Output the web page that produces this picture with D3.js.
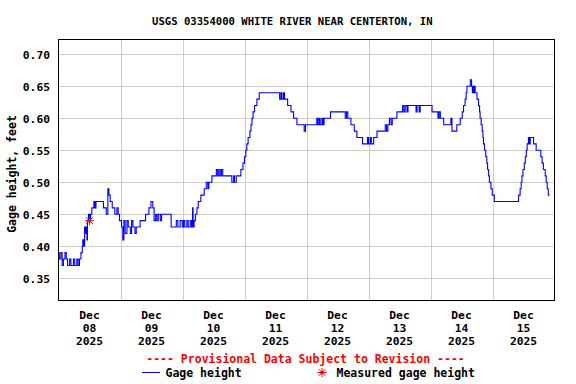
<!DOCTYPE html>
<html>
<head>
<meta charset="utf-8">
<script src="https://cdn.jsdelivr.net/npm/d3@7"></script>
<style>
  html, body { margin: 0; padding: 0; background: #fff; }
  svg text { font-family: "DejaVu Sans Mono", "Liberation Mono", monospace; font-weight: bold; }
</style>
</head>
<body>
<div id="chart"></div>
<script>
// USGS gage height, hours since Dec 08 2025 00:00
const titleText = "USGS 03354000 WHITE RIVER NEAR CENTERTON, IN";
const obsHours = [
  0.0, 0.3, 0.9, 1.4, 1.9, 2.5, 3.0, 3.5, 4.3, 4.8, 5.8, 6.3, 7.1, 7.6, 8.1, 8.7, 9.2, 9.4, 9.7,
  10.1, 10.5, 10.7, 11.0, 11.2, 11.6, 12.0, 12.4, 12.9, 13.7, 14.1, 14.5, 17.4, 18.5, 19.1, 19.5,
  20.0, 20.8, 21.8, 22.6, 23.1, 23.6, 24.4, 24.9, 25.3, 25.8, 26.5, 27.0, 27.8, 28.3, 28.8, 29.6,
  30.1, 31.6, 33.7, 35.0, 35.8, 36.5, 37.0, 37.6, 38.1, 38.6, 39.4, 39.9, 43.6, 45.6, 46.2, 47.1,
  47.9, 48.4, 48.9, 49.7, 50.2, 51.0, 51.5, 51.9, 52.1, 52.5, 53.0, 53.6, 54.1, 55.1, 56.4, 57.2,
  57.8, 58.2, 59.4, 61.1, 61.6, 62.1, 62.6, 63.1, 63.6, 67.1, 67.8, 68.1, 68.8, 70.6, 71.4, 72.0,
  72.5, 72.9, 73.4, 74.1, 74.5, 74.9, 75.3, 75.9, 76.8, 77.7, 85.6, 86.1, 86.5, 87.1, 87.5, 88.7,
  90.0, 91.0, 92.3, 95.1, 95.6, 100.0, 100.4, 100.9, 101.3, 102.0, 102.4, 102.8, 105.3, 111.0,
  111.5, 112.0, 113.2, 114.5, 115.5, 117.7, 119.6, 120.0, 120.7, 121.1, 122.0, 123.3, 126.5, 127.0,
  127.5, 128.1, 128.7, 129.2, 131.0, 133.2, 133.7, 134.2, 134.9, 135.3, 138.4, 138.8, 139.6, 140.0,
  144.6, 146.9, 147.3, 147.8, 149.1, 151.9, 152.3, 154.2, 155.5, 156.3, 156.8, 157.4, 157.8, 158.1,
  159.4, 159.9, 160.2, 160.5, 160.8, 161.0, 161.3, 162.0, 162.6, 163.0, 163.2, 163.6, 164.0, 164.3,
  164.5, 164.9, 165.4, 165.8, 166.1, 166.5, 166.8, 167.4, 167.9, 168.7, 178.1, 178.7, 179.1, 179.4,
  179.8, 180.3, 180.7, 181.1, 181.4, 181.9, 182.3, 182.6, 183.9, 184.9, 186.7, 187.2, 187.7, 188.4,
  188.8, 189.2, 189.6, 190.1
];
const gageHeight = [
  0.39, 0.38, 0.39, 0.37, 0.38, 0.39, 0.38, 0.37, 0.38, 0.37, 0.38, 0.37, 0.38, 0.37, 0.38, 0.39, 0.40, 0.41, 0.40,
  0.43, 0.42, 0.43, 0.41, 0.44, 0.45, 0.44, 0.45, 0.46, 0.47, 0.46, 0.47, 0.46, 0.45, 0.49, 0.48,
  0.47, 0.46, 0.45, 0.46, 0.45, 0.44, 0.43, 0.41, 0.44, 0.42, 0.44, 0.43, 0.42, 0.44, 0.43, 0.42,
  0.43, 0.44, 0.45, 0.46, 0.47, 0.46, 0.44, 0.45, 0.44, 0.45, 0.44, 0.45, 0.43, 0.44, 0.43, 0.44,
  0.43, 0.44, 0.43, 0.44, 0.43, 0.44, 0.43, 0.46, 0.43, 0.44, 0.45, 0.46, 0.47, 0.48, 0.49, 0.50,
  0.49, 0.50, 0.51, 0.52, 0.51, 0.52, 0.51, 0.52, 0.51, 0.50, 0.51, 0.50, 0.51, 0.52, 0.53, 0.54,
  0.55, 0.56, 0.57, 0.58, 0.59, 0.60, 0.61, 0.62, 0.63, 0.64, 0.63, 0.64, 0.63, 0.64, 0.63, 0.62,
  0.61, 0.60, 0.59, 0.58, 0.59, 0.60, 0.59, 0.60, 0.59, 0.60, 0.59, 0.60, 0.61, 0.60,
  0.61, 0.60, 0.59, 0.58, 0.57, 0.56, 0.57, 0.56, 0.57, 0.56, 0.57, 0.58, 0.59, 0.58,
  0.59, 0.60, 0.59, 0.60, 0.61, 0.62, 0.61, 0.62, 0.61, 0.62, 0.61, 0.62, 0.61, 0.62,
  0.61, 0.60, 0.61, 0.60, 0.59, 0.60, 0.58, 0.59, 0.60, 0.61, 0.62, 0.63, 0.64, 0.65,
  0.66, 0.65, 0.64, 0.65, 0.64, 0.65, 0.64, 0.63, 0.62, 0.61, 0.60, 0.59, 0.58, 0.57,
  0.56, 0.55, 0.54, 0.53, 0.52, 0.51, 0.50, 0.49, 0.48, 0.47, 0.48, 0.49, 0.50, 0.51,
  0.52, 0.53, 0.54, 0.55, 0.56, 0.57, 0.56, 0.57, 0.56, 0.55, 0.54, 0.53, 0.52, 0.51,
  0.50, 0.49, 0.48, 0.48
];
const measuredHours = [12.0];
const measuredHeight = [0.44];
const dayLabels = ["08", "09", "10", "11", "12", "13", "14", "15"];
const monthLabel = "Dec";
const yearLabel = "2025";
const yTicks = [0.35, 0.40, 0.45, 0.50, 0.55, 0.60, 0.65, 0.70];

const W = 576, H = 384;
const plot = { left: 58.5, top: 39.5, right: 554.5, bottom: 300.5 };

const svg = d3.select("#chart").append("svg")
  .attr("width", W).attr("height", H);

const x = d3.scaleLinear().domain([0, 192]).range([plot.left, plot.right]);
const y = d3.scaleLinear().domain([0.316, 0.7224]).range([300, 40]);

// title
svg.append("text")
  .attr("x", 152).attr("y", 24.5)
  .attr("font-size", "10.6px")
  .attr("fill", "#000")
  .text(titleText);

// grid
const grid = svg.append("g").attr("stroke", "#cccccc").attr("stroke-width", 1);
grid.selectAll("line.h").data(yTicks).enter().append("line")
  .attr("x1", plot.left).attr("x2", plot.right)
  .attr("y1", d => Math.round(y(d)) + 0.5).attr("y2", d => Math.round(y(d)) + 0.5);
grid.selectAll("line.v").data(d3.range(1, dayLabels.length)).enter().append("line")
  .attr("x1", d => Math.round(x(d * 24)) + 0.5).attr("x2", d => Math.round(x(d * 24)) + 0.5)
  .attr("y1", plot.top).attr("y2", plot.bottom);

// y tick labels
svg.append("g").selectAll("text").data(yTicks).enter().append("text")
  .attr("x", 50).attr("y", d => y(d) + 4.5)
  .attr("text-anchor", "end")
  .attr("font-size", "11.3px")
  .text(d => d.toFixed(2));

// y axis title
svg.append("text")
  .attr("transform", "translate(16,174) rotate(-90)")
  .attr("text-anchor", "middle")
  .attr("font-size", "11.5px")
  .text("Gage height, feet");

// x tick labels (centered at noon)
const xl = svg.append("g").selectAll("g").data(dayLabels).enter().append("g")
  .attr("transform", (d, i) => `translate(${x(i * 24 + 12)},0)`);
[[318.5, () => monthLabel], [331.5, d => d], [344.5, () => yearLabel]].forEach(([yy, fn]) => {
  xl.append("text").attr("y", yy).attr("text-anchor", "middle")
    .attr("font-size", "11.3px").text(fn);
});

// gage height line
const pts = obsHours.map((h, i) => [h, gageHeight[i]]);
svg.append("path")
  .datum(pts)
  .attr("fill", "none")
  .attr("stroke", "#0000ff")
  .attr("stroke-width", 1.1)
  .attr("d", d3.line().x(d => x(d[0])).y(d => y(d[1])).curve(d3.curveStepAfter));

// asterisk marker
function drawStar(g, cx, cy) {
  const r = 4.5;
  [[-r, 0, r, 0], [0, -r, 0, r], [-r * 0.75, -r * 0.75, r * 0.75, r * 0.75], [-r * 0.75, r * 0.75, r * 0.75, -r * 0.75]]
    .forEach(([a, b, c, e]) => {
      g.append("line").attr("x1", cx + a).attr("y1", cy + b).attr("x2", cx + c).attr("y2", cy + e)
        .attr("stroke", "#ff0000").attr("stroke-width", 1);
    });
  g.append("rect").attr("x", cx - 1.5).attr("y", cy - 1.5).attr("width", 3).attr("height", 3).attr("fill", "#ff0000");
}
measuredHours.forEach((h, i) => drawStar(svg, x(h), y(measuredHeight[i])));

// plot frame
svg.append("rect")
  .attr("x", plot.left).attr("y", plot.top)
  .attr("width", plot.right - plot.left).attr("height", plot.bottom - plot.top)
  .attr("fill", "none").attr("stroke", "#000").attr("stroke-width", 1);

// legend
svg.append("text")
  .attr("x", 305.5).attr("y", 363)
  .attr("text-anchor", "middle")
  .attr("font-size", "11.5px")
  .attr("fill", "#ff0000")
  .text("---- Provisional Data Subject to Revision ----");
svg.append("line").attr("x1", 142).attr("x2", 160).attr("y1", 372.5).attr("y2", 372.5)
  .attr("stroke", "#0000ff").attr("stroke-width", 1);
svg.append("text").attr("x", 165.5).attr("y", 376.5).attr("font-size", "11.5px").text("Gage height");
drawStar(svg, 322, 372.5);
svg.append("text").attr("x", 336.5).attr("y", 376.5).attr("font-size", "11.5px").text("Measured gage height");
</script>
</body>
</html>
